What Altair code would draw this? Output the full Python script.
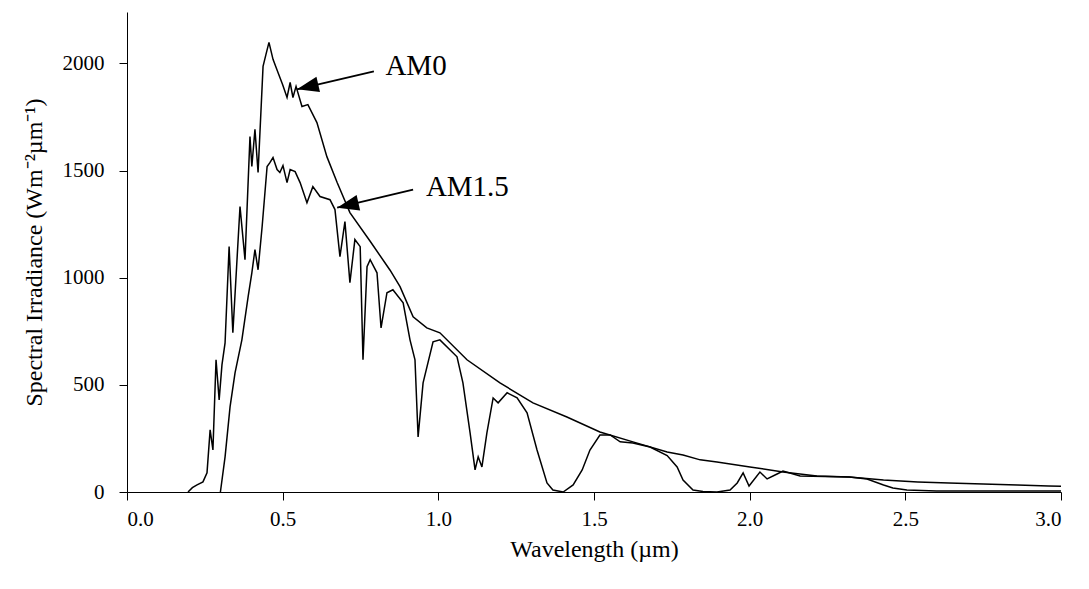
import altair as alt
import pandas as pd

# ---- data ----
am0_wl = [0.196, 0.210, 0.225, 0.244, 0.257, 0.267, 0.276, 0.286, 0.296, 0.305, 0.315, 0.328,
          0.340, 0.352, 0.363, 0.379, 0.395, 0.401, 0.411, 0.421, 0.437, 0.446, 0.456, 0.469,
          0.485, 0.500, 0.514, 0.524, 0.533, 0.543, 0.562, 0.581, 0.610, 0.642, 0.675, 0.716,
          0.781, 0.845, 0.877, 0.919, 0.963, 1.005, 1.092, 1.198, 1.304, 1.413, 1.519, 1.625,
          1.735, 1.786, 1.841, 1.895, 2.001, 2.107, 2.216, 2.32, 2.43, 2.54, 2.64, 2.75, 2.86,
          2.96, 3.0]
am0_val = [0, 20, 33, 47, 89, 290, 196, 617, 430, 593, 696, 1145,
           743, 1050, 1332, 1084, 1659, 1519, 1692, 1491, 1986, 2040, 2098, 2019,
           1958, 1900, 1841, 1911, 1841, 1893, 1799, 1808, 1724, 1565, 1444, 1304,
           1170, 1035, 958, 818, 766, 743, 617, 509, 416, 350, 280, 234,
           187, 173, 150, 140, 117, 93, 75, 70, 56, 47, 42, 37, 33,
           28, 27]

am15_wl = [0.300, 0.315, 0.331, 0.347, 0.369, 0.389, 0.401, 0.411, 0.421, 0.434, 0.450, 0.459,
           0.469, 0.482, 0.491, 0.501, 0.514, 0.524, 0.540, 0.556, 0.578, 0.597, 0.620, 0.652,
           0.668, 0.684, 0.700, 0.716, 0.732, 0.749, 0.758, 0.771, 0.781, 0.803, 0.816, 0.835,
           0.854, 0.887, 0.909, 0.925, 0.935, 0.951, 0.983, 1.005, 1.060, 1.079, 1.102, 1.118,
           1.128, 1.140, 1.156, 1.176, 1.192, 1.221, 1.253, 1.285, 1.317, 1.349, 1.368, 1.401,
           1.433, 1.462, 1.487, 1.519, 1.552, 1.584, 1.625, 1.68, 1.735, 1.767, 1.786, 1.818,
           1.85, 1.895, 1.937, 1.96, 1.979, 1.998, 2.033, 2.056, 2.088, 2.107, 2.162, 2.32,
           2.377, 2.43, 2.46, 2.505, 2.6, 3.0]
am15_val = [0, 164, 397, 556, 710, 911, 1023, 1131, 1037, 1238, 1519, 1537,
            1561, 1505, 1491, 1523, 1444, 1505, 1495, 1444, 1350, 1425, 1379, 1364,
            1318, 1098, 1262, 977, 1178, 1145, 617, 1051, 1084, 1023, 766, 930,
            944, 883, 710, 617, 257, 509, 701, 710, 631, 509, 276, 103,
            164, 117, 276, 439, 416, 463, 439, 369, 196, 42, 9, 0,
            33, 103, 196, 266, 266, 234, 229, 210, 170, 117, 56, 9,
            2, 0, 9, 42, 89, 28, 93, 61, 84, 98, 75, 70,
            61, 33, 19, 9, 5, 5]

labels = ["AM0", "AM1.5"]
label_wl = [0.83, 0.96]
label_val = [1990, 1425]
arrow_tail_wl = [0.793, 0.919]
arrow_tail_val = [1963, 1411]
arrow_tip_wl = [0.546, 0.675]
arrow_tip_val = [1879, 1327]

x_ticks = [0.0, 0.5, 1.0, 1.5, 2.0, 2.5, 3.0]
y_ticks = [0, 500, 1000, 1500, 2000]

# ---- tables ----
curves = pd.concat([
    pd.DataFrame({"wl": am0_wl, "val": am0_val, "series": "AM0"}),
    pd.DataFrame({"wl": am15_wl, "val": am15_val, "series": "AM1.5"}),
])
ann = pd.DataFrame({"label": labels, "wl": label_wl, "val": label_val,
                    "twl": arrow_tail_wl, "tval": arrow_tail_val,
                    "hwl": arrow_tip_wl, "hval": arrow_tip_val})

FONT = "Liberation Serif"
axis_style = dict(grid=False, domainColor="black", tickColor="black", labelColor="black",
                  titleColor="black", labelFont=FONT, titleFont=FONT, labelFontSize=21,
                  titleFontSize=24, titleFontWeight="normal", domainWidth=1, tickWidth=1,
                  tickSize=8)

x_scale = alt.Scale(domain=[0, 3], nice=False, zero=False)
y_scale = alt.Scale(domain=[0, 2240], nice=False)

x_enc = alt.X("wl:Q", scale=x_scale,
              axis=alt.Axis(values=x_ticks, format=".1f", title="Wavelength (µm)",
                            labelPadding=8, titlePadding=8, **axis_style))
y_enc = alt.Y("val:Q", scale=y_scale,
              axis=alt.Axis(values=y_ticks, format="d",
                            title="Spectral Irradiance (Wm⁻²µm⁻¹)",
                            labelPadding=15, titlePadding=16, **axis_style))

lines = alt.Chart(curves).mark_line(color="black", strokeWidth=1.5).encode(
    x=x_enc, y=y_enc, detail="series:N", order="wl:Q"
)

texts = alt.Chart(ann).mark_text(font=FONT, fontSize=29, align="left",
                                 baseline="middle", color="black").encode(
    x=alt.X("wl:Q", scale=x_scale), y=alt.Y("val:Q", scale=y_scale), text="label:N"
)

shafts = alt.Chart(ann).mark_rule(color="black", strokeWidth=2).encode(
    x=alt.X("twl:Q", scale=x_scale), y=alt.Y("tval:Q", scale=y_scale),
    x2="hwl:Q", y2="hval:Q"
)

heads = alt.Chart(ann).mark_point(
    shape="M0,0 L1,-0.36 L1,0.36 Z", filled=True, color="black", opacity=1,
    size=1900, angle=347, strokeWidth=0
).encode(
    x=alt.X("hwl:Q", scale=x_scale), y=alt.Y("hval:Q", scale=y_scale)
)

chart = alt.layer(lines, shafts, heads, texts).properties(
    width=934, height=480,
    autosize=alt.AutoSizeParams(type="none"),
    padding={"left": 119, "top": 4, "right": 20, "bottom": 77},
).configure_view(stroke=None)

chart.save("out.html", embed_options={"renderer": "svg", "actions": False})
